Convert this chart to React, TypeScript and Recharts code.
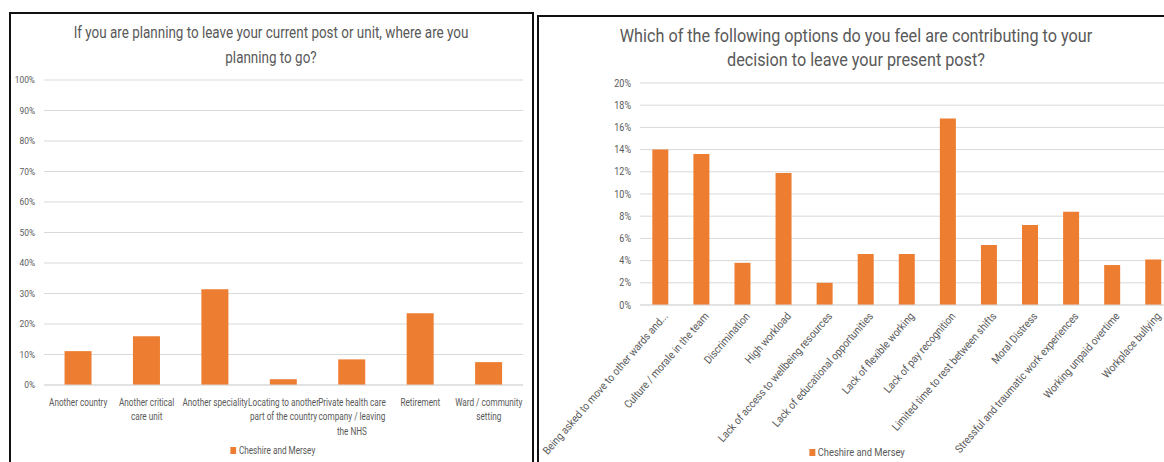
import React from "react";
import { BarChart, Bar, XAxis, YAxis, CartesianGrid, Legend } from "recharts";

// Left chart: where staff plan to go
const destinationLines = [
  ["Another country"],
  ["Another critical", "care unit"],
  ["Another speciality"],
  ["Locating to another", "part of the country"],
  ["Private health care", "company / leaving", "the NHS"],
  ["Retirement"],
  ["Ward / community", "setting"],
];
const destinations = destinationLines.map(l => l.join(" "));
const destinationShares = [11.1, 16, 31.4, 1.9, 8.4, 23.5, 7.5];
const destinationTicks = [0, 10, 20, 30, 40, 50, 60, 70, 80, 90, 100];

// Right chart: reasons contributing to leaving
const reasons = [
  "Being asked to move to other wards and...",
  "Culture / morale in the team",
  "Discrimination",
  "High workload",
  "Lack of access to wellbeing resources",
  "Lack of educational opportunities",
  "Lack of flexible working",
  "Lack of pay recognition",
  "Limited time to rest between shifts",
  "Moral Distress",
  "Stressful and traumatic work experiences",
  "Working unpaid overtime",
  "Workplace bullying",
];
const reasonShares = [14.0, 13.6, 3.8, 11.9, 2.0, 4.6, 4.6, 16.8, 5.4, 7.2, 8.4, 3.6, 4.1];
const reasonTicks = [0, 2, 4, 6, 8, 10, 12, 14, 16, 18, 20];

const SERIES = "Cheshire and Mersey";
const ORANGE = "#ED7D31";
const TEXT = "#595959";
const GRID = "#D9D9D9";
const FONT = "Roboto, sans-serif";

const destinationData = destinations.map((name, i) => ({ name, value: destinationShares[i] }));
const reasonData = reasons.map((name, i) => ({ name, value: reasonShares[i] }));

// Calibri isn't available, so Roboto gets squeezed horizontally to get close to its width
const WrappedTick = ({ x, y, payload }: any) => {
  const lines = destinationLines[payload.index] ?? [payload.value];
  return (
    <g transform={`translate(${x},${y}) scale(0.82,1)`}>
      <text x={0} y={0} textAnchor="middle" fill={TEXT} fontSize={10} fontFamily={FONT}>
        {lines.map((l, i) => (
          <tspan key={i} x={0} dy={i === 0 ? 21 : 14.5}>{l}</tspan>
        ))}
      </text>
    </g>
  );
};

const SlantTick = ({ x, y, payload }: any) => (
  <g transform={`translate(${x + 5},${y + 9}) rotate(-49) scale(0.9,1)`}>
    <text x={0} y={0} dy="0.35em" textAnchor="end" fill={TEXT} fontSize={11} fontFamily={FONT}>
      {payload.value}
    </text>
  </g>
);

const makeValueTick = (sx: number, size: number) => ({ x, y, payload }: any) => (
  <g transform={`translate(${x},${y}) scale(${sx},1)`}>
    <text x={0} y={0} dy="0.35em" textAnchor="end" fill={TEXT} fontSize={size} fontFamily={FONT}>
      {`${payload.value}%`}
    </text>
  </g>
);
const LeftValueTick = makeValueTick(0.88, 9.5);
const RightValueTick = makeValueTick(0.9, 10);

const LegendKey = ({ size, sx }: { size: number; sx: number }) => (
  <div style={{ height: 20, display: "flex", justifyContent: "center", alignItems: "center", fontSize: size, color: TEXT, fontFamily: FONT, transform: `scaleX(${sx})` }}>
    <span style={{ width: 7, height: 7, background: ORANGE, marginRight: 3, display: "inline-block" }} />
    {SERIES}
  </div>
);

const titleStyle: React.CSSProperties = {
  position: "absolute",
  textAlign: "center",
  color: TEXT,
  fontFamily: FONT,
  whiteSpace: "nowrap",
  width: 600,
};

export default function App() {
  return (
    <div style={{ position: "fixed", left: 0, top: 0, width: 1164, height: 462, overflow: "hidden", background: "#fff" }}>
      {/* panel frames */}
      <div style={{ position: "absolute", left: 9, top: 12, width: 521, height: 500, border: "2px solid #111" }} />
      <div style={{ position: "absolute", left: 537, top: 15, width: 700, height: 500, border: "2px solid #111" }} />

      <div style={{ ...titleStyle, left: 271 - 300, top: 20, fontSize: 16, lineHeight: "25px", transform: "scaleX(0.84)" }}>
        If you are planning to leave your current post or unit, where are you<br />planning to go?
      </div>
      <div style={{ ...titleStyle, left: 856 - 300, top: 24, fontSize: 18, lineHeight: "24px", transform: "scaleX(0.9)" }}>
        Which of the following options do you feel are contributing to your<br />decision to leave your present post?
      </div>

      <div style={{ position: "absolute", left: 0, top: 0 }}>
        <BarChart width={534} height={462} data={destinationData} margin={{ top: 80, right: 11, left: 0, bottom: 0 }} barCategoryGap="30%">
          <CartesianGrid vertical={false} stroke={GRID} />
          <XAxis dataKey="name" interval={0} height={57} tickLine={false} tickSize={0} tickMargin={0} axisLine={{ stroke: GRID }} tick={<WrappedTick />} />
          <YAxis width={44} domain={[0, 100]} ticks={destinationTicks} interval={0} axisLine={false} tickLine={false} tickSize={0} tickMargin={9}
            tick={<LeftValueTick />} />
          <Legend content={<LegendKey size={10} sx={0.82} />} verticalAlign="bottom" wrapperStyle={{ left: 123, width: 300, bottom: 2 }} />
          <Bar dataKey="value" name={SERIES} fill={ORANGE} isAnimationActive={false} />
        </BarChart>
      </div>

      <div style={{ position: "absolute", left: 537, top: 0 }}>
        <BarChart width={643} height={462} data={reasonData} margin={{ top: 83, right: 6, left: 0, bottom: 0 }} barCategoryGap="30%">
          <CartesianGrid vertical={false} stroke={GRID} />
          <XAxis dataKey="name" interval={0} height={137} tickLine={false} tickSize={0} tickMargin={0} axisLine={{ stroke: GRID }} tick={<SlantTick />} />
          <YAxis width={103} domain={[0, 20]} ticks={reasonTicks} interval={0} axisLine={false} tickLine={false} tickSize={0} tickMargin={9}
            tick={<RightValueTick />} />
          <Legend content={<LegendKey size={11} sx={0.85} />} verticalAlign="bottom" wrapperStyle={{ left: 170, width: 300, bottom: 0 }} />
          <Bar dataKey="value" name={SERIES} fill={ORANGE} isAnimationActive={false} />
        </BarChart>
      </div>
    </div>
  );
}
